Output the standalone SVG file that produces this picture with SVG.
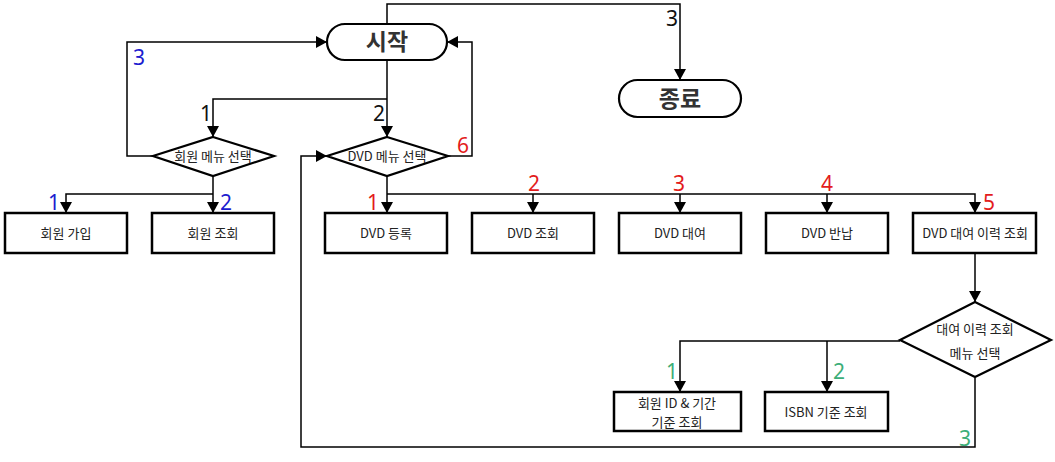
<svg xmlns="http://www.w3.org/2000/svg" width="1055" height="462" viewBox="0 0 1055 462">
<defs>
<marker id="arr" markerUnits="userSpaceOnUse" markerWidth="12" markerHeight="12" refX="11" refY="6" orient="auto">
<path d="M0,0 L11,6 L0,12 z" fill="#000"/>
</marker>
</defs>
<style>
.box{fill:#fff;stroke:#000;stroke-width:2.5}
.dia{fill:#fff;stroke:#000;stroke-width:2.2}
.term{fill:#fff;stroke:#000;stroke-width:2.2}
.con{fill:none;stroke:#000;stroke-width:1.5}
.t{font-family:"Noto Sans CJK KR","Noto Sans",sans-serif;font-size:13px;fill:#222;text-anchor:middle}
.tt{font-family:"Noto Sans CJK KR","Noto Sans",sans-serif;font-size:23px;font-weight:bold;fill:#333;text-anchor:middle}
.n{font-family:"Noto Sans","DejaVu Sans",sans-serif;font-size:21px;text-anchor:middle}
.blk{fill:#111}.blu{fill:#1c1ccf}.red{fill:#e31c1c}.grn{fill:#3cae78}
</style>
<rect width="1055" height="462" fill="#fff"/>
<g id="connectors">
<path class="con" d="M387,24 V4 H680 V80" marker-end="url(#arr)"/>
<path class="con" d="M387,60 V137" marker-end="url(#arr)"/>
<path class="con" d="M387,99 H213 V137" marker-end="url(#arr)"/>
<path class="con" d="M153,156 H127 V42 H327" marker-end="url(#arr)"/>
<path class="con" d="M448,156 H472 V42 H447" marker-end="url(#arr)"/>
<path class="con" d="M213,176 V213" marker-end="url(#arr)"/>
<path class="con" d="M213,194 H66 V213" marker-end="url(#arr)"/>
<path class="con" d="M387,176 V213" marker-end="url(#arr)"/>
<path class="con" d="M387,194 H975 V213" marker-end="url(#arr)"/>
<path class="con" d="M533,194 V213" marker-end="url(#arr)"/>
<path class="con" d="M680,194 V213" marker-end="url(#arr)"/>
<path class="con" d="M827,194 V213" marker-end="url(#arr)"/>
<path class="con" d="M975,253 V302" marker-end="url(#arr)"/>
<path class="con" d="M900,341 H680 V392" marker-end="url(#arr)"/>
<path class="con" d="M827,341 V392" marker-end="url(#arr)"/>
<path class="con" d="M975,378 V447 H301 V156 H327" marker-end="url(#arr)"/>
</g>
<g id="labels">
<text class="n blk" x="672" y="26">3</text>
<text class="n blk" x="206" y="121">1</text>
<text class="n blk" x="379" y="121">2</text>
<text class="n blu" x="139" y="65">3</text>
<text class="n red" x="463" y="153">6</text>
<text class="n blu" x="54" y="210">1</text>
<text class="n blu" x="226" y="210">2</text>
<text class="n red" x="373" y="210">1</text>
<text class="n red" x="534" y="191">2</text>
<text class="n red" x="679" y="191">3</text>
<text class="n red" x="827" y="191">4</text>
<text class="n red" x="989" y="210">5</text>
<text class="n grn" x="672" y="379">1</text>
<text class="n grn" x="839" y="379">2</text>
<text class="n grn" x="965" y="446">3</text>
</g>
<g id="start"><rect class="term" x="327" y="24" width="120" height="36" rx="18"/><text class="tt" x="387" y="50">시작</text></g>
<g id="end"><rect class="term" x="619" y="80" width="122" height="37" rx="18.5"/><text class="tt" x="680" y="107">종료</text></g>
<g id="member-menu"><polygon class="dia" points="213,137 274,156 213,176 153,156"/><text class="t" x="213" y="161">회원 메뉴 선택</text></g>
<g id="dvd-menu"><polygon class="dia" points="387,137 448,156 387,176 327,156"/><text class="t" x="387" y="161">DVD 메뉴 선택</text></g>
<g id="member-join"><rect class="box" x="5" y="213" width="122" height="40"/><text class="t" x="66" y="238">회원 가입</text></g>
<g id="member-view"><rect class="box" x="152" y="213" width="122" height="40"/><text class="t" x="213" y="238">회원 조회</text></g>
<g id="dvd-reg"><rect class="box" x="325" y="213" width="122" height="40"/><text class="t" x="386" y="238">DVD 등록</text></g>
<g id="dvd-view"><rect class="box" x="472" y="213" width="122" height="40"/><text class="t" x="533" y="238">DVD 조회</text></g>
<g id="dvd-rent"><rect class="box" x="619" y="213" width="122" height="40"/><text class="t" x="680" y="238">DVD 대여</text></g>
<g id="dvd-return"><rect class="box" x="766" y="213" width="122" height="40"/><text class="t" x="827" y="238">DVD 반납</text></g>
<g id="dvd-history"><rect class="box" x="913" y="213" width="123" height="40"/><text class="t" x="975" y="238">DVD 대여 이력 조회</text></g>
<g id="history-menu"><polygon class="dia" points="975,302 1051,340 975,377 900,340"/><text class="t" x="975" y="334">대여 이력 조회</text><text class="t" x="975" y="358">메뉴 선택</text></g>
<g id="by-member"><rect class="box" x="614" y="392" width="127" height="39"/><text class="t" x="677" y="408">회원 ID &amp; 기간</text><text class="t" x="677" y="427">기준 조회</text></g>
<g id="by-isbn"><rect class="box" x="765" y="392" width="123" height="39"/><text class="t" x="826" y="417">ISBN 기준 조회</text></g>
</svg>
